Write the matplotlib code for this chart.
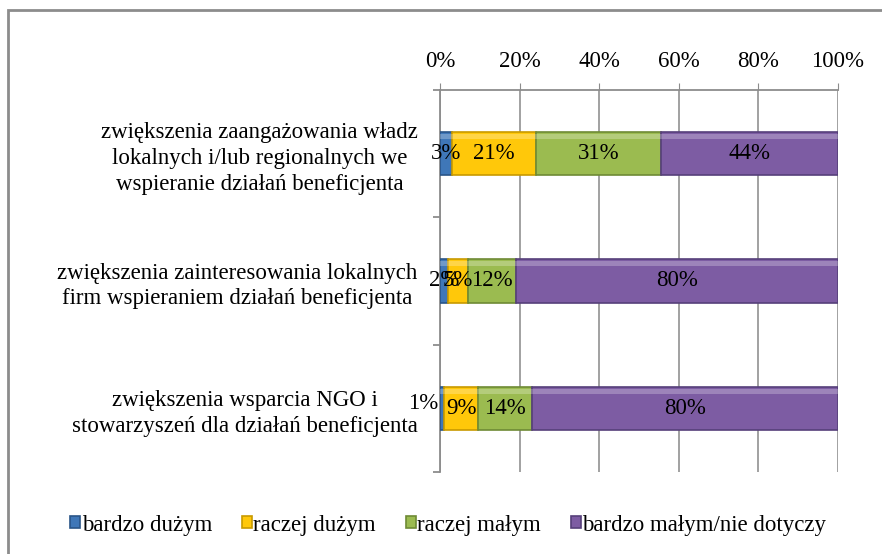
"""
Stacked 100% bar chart: assessment of beneficiary support (Polish survey).
"""

import numpy as np
import matplotlib.pyplot as plt
from matplotlib.patches import Rectangle

# === Data ===
CATEGORIES = [
    "zwiększenia zaangażowania władz\nlokalnych i/lub regionalnych we\nwspieranie działań beneficjenta",
    "zwiększenia zainteresowania lokalnych\nfirm wspieraniem działań beneficjenta",
    "zwiększenia wsparcia NGO i\nstowarzyszeń dla działań beneficjenta",
]
SERIES = ["bardzo dużym", "raczej dużym", "raczej małym", "bardzo małym/nie dotyczy"]
BARDZO_DUZYM = [3, 2, 1]
RACZEJ_DUZYM = [21, 5, 9]
RACZEJ_MALYM = [31, 12, 14]
BARDZO_MALYM = [44, 80, 80]
X_TICKS = [0, 20, 40, 60, 80, 100]

COLORS = ["#3F77B8", "#FFC80A", "#9BBB50", "#7D5CA3"]
EDGES = ["#2A5588", "#C89A00", "#6E8A35", "#56407A"]

plt.rcParams["font.family"] = ["Liberation Serif", "DejaVu Serif"]
plt.rcParams["font.size"] = 16.5


def main():
    raw = np.array([BARDZO_DUZYM, RACZEJ_DUZYM, RACZEJ_MALYM, BARDZO_MALYM], dtype=float)
    share = raw / raw.sum(axis=0) * 100  # 100% stacked, like Excel

    fig = plt.figure(figsize=(8.82, 5.54), dpi=100)
    ax = fig.add_axes([440 / 882, 1 - 472 / 554, 398 / 882, 382 / 554])

    y = np.arange(len(CATEGORIES))
    left = np.zeros(len(CATEGORIES))
    for i, name in enumerate(SERIES):
        ax.barh(y, share[i], left=left, height=0.34, color=COLORS[i],
                edgecolor=EDGES[i], linewidth=1.2, label=name, zorder=3)
        # thin highlight strip on top to mimic the bevel
        ax.barh(y - 0.135, share[i], left=left, height=0.04, color="white",
                alpha=0.25, linewidth=0, zorder=4)
        for j in range(len(CATEGORIES)):
            w = share[i, j]
            if w < 2:
                ax.text(left[j] - 0.5, y[j] - 0.04, f"{raw[i, j]:.0f}%",
                        ha="right", va="center", zorder=5)
            else:
                ax.text(left[j] + w / 2, y[j], f"{raw[i, j]:.0f}%",
                        ha="center", va="center", zorder=5)
        left += share[i]

    ax.set_xlim(0, 100)
    ax.set_ylim(len(CATEGORIES) - 0.5, -0.5)
    ax.xaxis.tick_top()
    ax.set_xticks(X_TICKS)
    ax.set_xticklabels([f"{t}%" for t in X_TICKS])
    ax.tick_params(axis="x", length=5, color="#8C8C8C", pad=8)
    ax.grid(True, axis="x", color="#9A9A9A", linewidth=1.3, zorder=0)

    ax.set_yticks(y)
    ax.set_yticklabels(CATEGORIES, multialignment="center", linespacing=1.3)
    ax.tick_params(axis="y", which="major", length=0, pad=16)
    ax.set_yticks(np.arange(len(CATEGORIES) + 1) - 0.5, minor=True)
    ax.tick_params(axis="y", which="minor", length=5, color="#8C8C8C", width=1.3)

    for side in ["right", "bottom"]:
        ax.spines[side].set_visible(False)
    for side in ["left", "top"]:
        ax.spines[side].set_color("#8C8C8C")
        ax.spines[side].set_linewidth(1.3)

    fig.legend(loc="center", bbox_to_anchor=(0.508, 1 - 525 / 554), ncol=4,
               frameon=False, handlelength=0.45, handleheight=0.45,
               handletextpad=0.05, columnspacing=1.3, borderaxespad=0)

    # chart frame (runs off the right and bottom edge)
    fig.patches.append(Rectangle((8 / 882, -0.1), 1.2, 1.1 - 10 / 554,
                                 transform=fig.transFigure, fill=False,
                                 edgecolor="#8C8C8C", linewidth=2))

    fig.savefig("out.png", dpi=100)
    plt.close(fig)


if __name__ == "__main__":
    main()
